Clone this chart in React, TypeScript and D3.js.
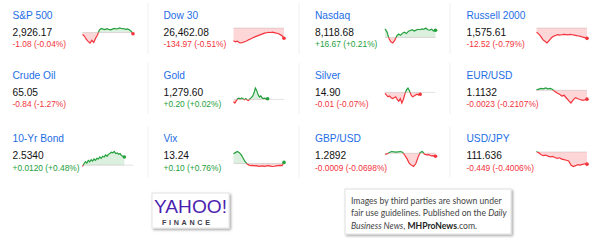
import React from "react";
import * as d3 from "d3";

// Quote board: name, last price, change and intraday sparkline per instrument
const names = [
  "S&P 500", "Dow 30", "Nasdaq", "Russell 2000",
  "Crude Oil", "Gold", "Silver", "EUR/USD",
  "10-Yr Bond", "Vix", "GBP/USD", "USD/JPY",
];
const prices = [2926.17, 26462.08, 8118.68, 1575.61, 65.05, 1279.6, 14.9, 1.1132, 2.534, 13.24, 1.2892, 111.636];
const decimals = [2, 2, 2, 2, 2, 2, 2, 4, 4, 2, 4, 3];
const changes = ["-1.08", "-134.97", "+16.67", "-12.52", "-0.84", "+0.20", "-0.01", "-0.0023", "+0.0120", "+0.10", "-0.0009", "-0.449"];
const changePcts = ["-0.04%", "-0.51%", "+0.21%", "-0.79%", "-1.27%", "+0.02%", "-0.07%", "-0.2107%", "+0.48%", "+0.76%", "-0.0698%", "-0.4006%"];

// Intraday prices (the last print is appended from `prices`)
const spx = [2925.5, 2924, 2921, 2919, 2917.5, 2920, 2918, 2922, 2925, 2929.5, 2931, 2930.5, 2930, 2930.8, 2930.2, 2929.8, 2930.5, 2931.2, 2930.6, 2930.9, 2931.5, 2930.8, 2931, 2930.3, 2930.7, 2929.8, 2928.5];
const dji = [26430, 26415, 26425, 26405, 26400, 26410, 26420, 26430, 26445, 26455, 26470, 26480, 26490, 26500, 26510, 26520, 26530, 26535, 26540, 26538, 26542, 26536, 26530, 26525, 26510, 26495];
const ixic = [8122, 8115, 8100, 8092, 8089, 8095, 8105, 8110, 8107, 8112, 8114, 8111, 8116, 8118, 8120, 8117, 8119, 8121, 8120, 8122, 8121, 8124, 8120, 8119, 8121, 8117];
const rut = [1583, 1581, 1578, 1574, 1572, 1570, 1573, 1576, 1578, 1579, 1580, 1579.5, 1580, 1580.5, 1580.2, 1579.8, 1580.4, 1580, 1579.5, 1579, 1578.5, 1578, 1577, 1576.5];
const gold = [1278.6, 1278.2, 1278.9, 1279.6, 1279.8, 1279.5, 1279.9, 1279.6, 1279.3, 1279.7, 1279.2, 1279.0, 1279.6, 1280.0, 1280.5, 1281.5, 1283.2, 1282.4, 1281.0, 1280.2, 1280.6, 1279.9, 1279.7, 1279.8, 1279.5];
const silver = [14.905, 14.895, 14.885, 14.89, 14.88, 14.875, 14.88, 14.885, 14.87, 14.86, 14.875, 14.85, 14.87, 14.9, 14.925, 14.935, 14.92, 14.895, 14.885, 14.89, 14.895, 14.9, 14.895];
const eurusd = [1.1156, 1.1158, 1.116, 1.1159, 1.1161, 1.1159, 1.116, 1.1157, 1.1152, 1.1148, 1.1145, 1.114, 1.1142, 1.1135, 1.1128, 1.1122, 1.113, 1.1136, 1.1133, 1.1131, 1.1129, 1.113];
const tnx = [2.52, 2.524, 2.527, 2.525, 2.529, 2.527, 2.53, 2.528, 2.531, 2.529, 2.532, 2.531, 2.534, 2.532, 2.535, 2.534, 2.537, 2.535, 2.538, 2.539, 2.541, 2.54, 2.542, 2.539, 2.54, 2.538, 2.539, 2.536, 2.535];
const vix = [14.0, 14.1, 14.2, 14.1, 13.9, 13.6, 13.3, 13.1, 13.0, 12.95, 12.97, 12.93, 12.95, 12.9, 12.92, 12.94, 12.9, 12.93, 12.95, 12.92, 12.88, 12.9, 12.94, 12.96, 12.98, 12.95];
const gbpusd = [1.2898, 1.2899, 1.2903, 1.2906, 1.2905, 1.2904, 1.2905, 1.2906, 1.2904, 1.2895, 1.2885, 1.2872, 1.2866, 1.2862, 1.287, 1.2888, 1.2903, 1.2906, 1.2898, 1.2896, 1.2897, 1.2893, 1.2894];
const usdjpy = [112.1, 112.05, 111.98, 111.95, 111.97, 111.93, 111.9, 111.92, 111.88, 111.85, 111.87, 111.82, 111.8, 111.78, 111.75, 111.6, 111.55, 111.58, 111.62, 111.6, 111.63, 111.65];

const series: (number[] | null)[] = [spx, dji, ixic, rut, null, gold, silver, eurusd, tnx, vix, gbpusd, usdjpy];
// Number of time slots in a full session (partial sessions stop short)
const sessionSlots = [28, 27, 27, 25, 0, 38, 34, 23, 36, 27, 24, 23];

const BLUE = "#1d6ee6";
const RED = "#f3343c";
const GREEN = "#23a03c";
const FONT = "'Liberation Sans', Arial, sans-serif";

const colX = [12.5, 163.5, 315, 466.5];
const rowY = [0, 60, 123.5];

function Spark({ id, values, base, slots, x0, x1, y0, y1 }: {
  id: string; values: number[]; base: number; slots: number;
  x0: number; x1: number; y0: number; y1: number;
}) {
  const x = d3.scaleLinear().domain([0, slots - 1]).range([x0, x1]);
  const ext = d3.extent([...values, base]) as [number, number];
  const y = d3.scaleLinear().domain(ext).range([y1, y0]);
  const by = y(base);
  const line = d3.line<number>().x((_, i) => x(i)).y((d) => y(d));
  const area = d3.area<number>().x((_, i) => x(i)).y0(by).y1((d) => y(d));
  const last = values[values.length - 1];
  const up = last >= base;
  return (
    <g>
      <defs>
        <clipPath id={`${id}-up`}>
          <rect x={x0 - 3} y={y0 - 4} width={x1 - x0 + 6} height={by - y0 + 4} />
        </clipPath>
        <clipPath id={`${id}-dn`}>
          <rect x={x0 - 3} y={by} width={x1 - x0 + 6} height={y1 - by + 4} />
        </clipPath>
      </defs>
      <line x1={x0} x2={x1} y1={by} y2={by} stroke="#e2e2e2" strokeWidth={1} />
      <g clipPath={`url(#${id}-up)`}>
        <path d={area(values) || ""} fill={GREEN} fillOpacity={0.16} />
        <path d={line(values) || ""} fill="none" stroke={GREEN} strokeWidth={1.2} />
      </g>
      <g clipPath={`url(#${id}-dn)`}>
        <path d={area(values) || ""} fill={RED} fillOpacity={0.2} />
        <path d={line(values) || ""} fill="none" stroke={RED} strokeWidth={1.2} />
      </g>
      <circle cx={x(values.length - 1)} cy={y(last)} r={1.8} fill={up ? GREEN : RED} />
    </g>
  );
}

export default function App() {
  return (
    <svg
      width={600}
      height={240}
      style={{ position: "fixed", left: 0, top: 0, display: "block", background: "#fff" }}
      fontFamily={FONT}
    >
      <defs>
        <filter id="shadow" x="-10%" y="-10%" width="125%" height="135%">
          <feDropShadow dx={1.5} dy={1.5} stdDeviation={1.2} floodColor="#000" floodOpacity={0.35} />
        </filter>
      </defs>
      <rect width={600} height={240} fill="#fff" />

      {/* faint column dividers */}
      {rowY.map((ry, r) =>
        [0, 1, 2].map((c) => (
          <line key={`sep-${r}-${c}`} x1={148 + c * 151} x2={148 + c * 151} y1={ry + 3} y2={ry + 54} stroke="#efefef" strokeWidth={1} />
        ))
      )}

      {names.map((name, i) => {
        const cx = colX[i % 4];
        const ry = rowY[Math.floor(i / 4)];
        const neg = changes[i].startsWith("-");
        const vals = series[i];
        const base = prices[i] - parseFloat(changes[i]);
        return (
          <g key={name}>
            <text x={cx} y={ry + 18.5} fontSize={10.2} fill={BLUE}>{name}</text>
            <text x={cx} y={ry + 35.5} fontSize={10.2} fill="#111">
              {d3.format(`,.${decimals[i]}f`)(prices[i])}
            </text>
            <text x={cx} y={ry + 47} fontSize={8.4} fill={neg ? RED : GREEN}>
              {`${changes[i]} (${changePcts[i]})`}
            </text>
            {vals && (
              <Spark
                id={`spark${i}`}
                values={[...vals, prices[i]]}
                base={base}
                slots={sessionSlots[i]}
                x0={cx + 70}
                x1={cx + 120.5}
                y0={ry + 28}
                y1={ry + 43}
              />
            )}
          </g>
        );
      })}

      {/* Yahoo Finance badge */}
      <rect x={152} y={193} width={77} height={35} fill="#fff" stroke="#e4e4e4" filter="url(#shadow)" />
      <text x={154} y={213} fontSize={19} fill="#4b1fb0" fontFamily={FONT} textLength={73} lengthAdjust="spacingAndGlyphs">
        YAHOO!
      </text>
      <text x={162} y={224.5} fontSize={7.2} fontWeight="bold" fill="#3d3a4a" textLength={48} lengthAdjust="spacing">
        FINANCE
      </text>

      {/* usage note */}
      <rect x={345} y={189} width={166} height={45} fill="#fff" stroke="#e0e0e0" filter="url(#shadow)" />
      <g fontFamily="Lato, 'Open Sans', sans-serif" fontSize={8.6} fill="#444" style={{ whiteSpace: "pre" }}>
        <text x={351} y={203.5}>Images by third parties are shown under</text>
        <text x={351} y={216}>
          {"fair use guidelines.  Published on the "}
          <tspan fontStyle="italic">Daily</tspan>
        </text>
        <text x={351} y={228.5}>
          <tspan fontStyle="italic">Business News</tspan>
          {", "}
          <tspan fontWeight="bold" fill="#222">MHProNews</tspan>
          {".com."}
        </text>
      </g>
    </svg>
  );
}
